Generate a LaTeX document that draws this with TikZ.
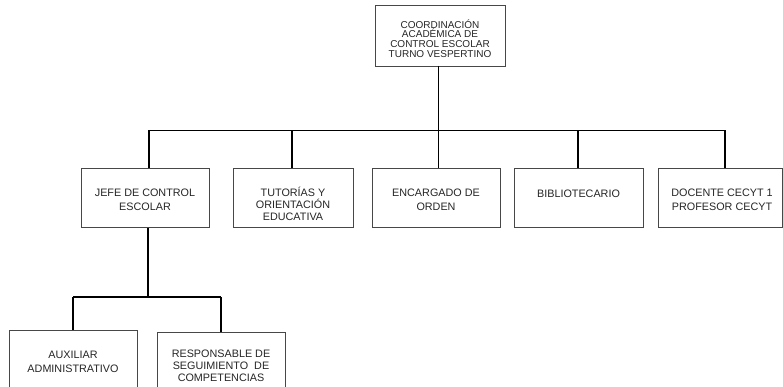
\documentclass[tikz,border=0pt]{standalone}
\usepackage{fontspec}
\setmainfont{Liberation Sans}
\begin{document}
\begin{tikzpicture}[x=1pt,y=-1pt,
  box/.style={draw=black!72, line width=0.9pt, fill=white, inner sep=0pt, outer sep=0pt, minimum width=128pt, minimum height=59pt},
  conn/.style={draw=black, line width=1.2pt},
  txt/.style={text=black!85, align=center, inner sep=0pt, font=\fontsize{10.8}{14}\selectfont},
  txtsm/.style={txt, font=\fontsize{10}{9.7}\selectfont},
  txtmid/.style={txt, font=\fontsize{10.8}{11.7}\selectfont}]
\useasboundingbox (0,0) rectangle (783,387);
\clip (0,0) rectangle (783,387);
% boxes
\node[box, minimum width=130pt, minimum height=61pt] (top) at (440,35.5) {};
\node[box] (jefe) at (145,198) {};
\node[box, minimum width=120pt] (tut) at (293,198) {};
\node[box] (enc) at (436,198) {};
\node[box, minimum width=129pt] (bib) at (578.5,198) {};
\node[box, minimum width=124pt] (doc) at (720,198) {};
\node[box, minimum height=80pt] (aux) at (73,370) {};
\node[box, minimum height=80pt] (resp) at (221,372) {};
% texts
\node[txtsm] (topt) at (440,38.5) {COORDINACIÓN\\ACADÉMICA DE\\CONTROL ESCOLAR\\TURNO VESPERTINO};
\node[txt] (jefet) at (145,200) {JEFE DE CONTROL\\ESCOLAR};
\node[txtmid] (tutt) at (293,204) {TUTORÍAS Y\\ORIENTACIÓN\\EDUCATIVA};
\node[txt] (enct) at (436,200) {ENCARGADO DE\\ORDEN};
\node[txt] (bibt) at (578.5,194) {BIBLIOTECARIO};
\node[txt] (doct) at (722,200) {DOCENTE CECYT 1\\PROFESOR CECYT};
\node[txt] (auxt) at (73,361.5) {AUXILIAR\\ADMINISTRATIVO};
\node[txt, font=\fontsize{10.8}{12}\selectfont] (respt) at (221,366) {RESPONSABLE DE\\SEGUIMIENTO\ \ DE\\COMPETENCIAS};
% connectors level 1
\coordinate (b1) at (149,130.5);
\coordinate (b2) at (292,130.5);
\coordinate (b3) at (438.5,130.5);
\coordinate (b4) at (578,130.5);
\coordinate (b5) at (725,130.5);
\draw[conn] (top.south -| b3) -- (b3);
\draw[conn] (b1) -- (b5);
\foreach \n/\b in {jefe/b1, tut/b2, enc/b3, bib/b4, doc/b5}
  \draw[conn] (\b) -- (\b |- \n.north);
% connectors level 2
\coordinate (c0) at (148,297);
\coordinate (c1) at (73,297);
\coordinate (c2) at (221,297);
\draw[conn] (jefe.south -| c0) -- (c0);
\draw[conn] (c1) -- (c2);
\draw[conn] (c1) -- (aux.north);
\draw[conn] (c2) -- (resp.north);
\end{tikzpicture}
\end{document}
